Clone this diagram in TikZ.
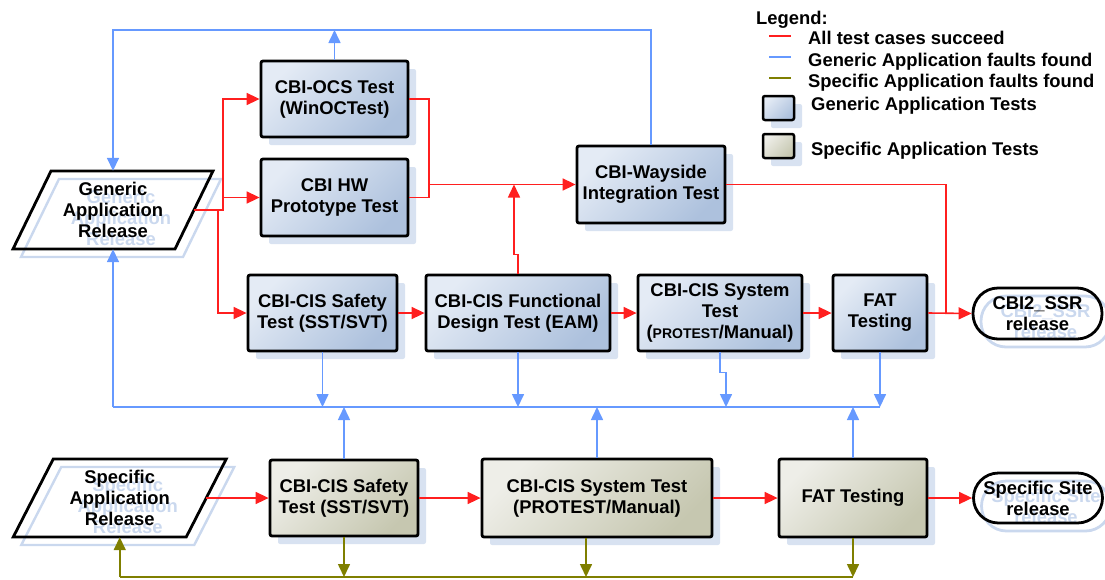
\documentclass[tikz,border=0pt]{standalone}
\usepackage{fontspec}
\setmainfont{Liberation Sans}
\usetikzlibrary{arrows.meta,shadows,calc}
\definecolor{cred}{HTML}{FF1F1F}
\definecolor{cblue}{HTML}{6699FF}
\definecolor{colive}{HTML}{7F7F00}
\definecolor{shblue}{HTML}{D8E2F1}
\definecolor{ghost}{HTML}{CAD8EE}
\definecolor{gtop}{HTML}{E4EBF5}
\definecolor{gbot}{HTML}{ADC1DD}
\definecolor{otop}{HTML}{EEEEE8}
\definecolor{obot}{HTML}{C6C7B0}
\tikzset{
  txt/.style={font=\fontsize{18.4}{21}\selectfont\bfseries, align=center, inner sep=1pt},
  box/.style={txt, draw=black, line width=2.8pt, rounded corners=2pt,
    drop shadow={shadow xshift=8pt, shadow yshift=-8pt, fill=shblue, opacity=1}},
  genbox/.style={box, top color=gtop, bottom color=gbot, shading angle=45},
  specbox/.style={box, top color=otop, bottom color=obot, shading angle=45},
  rel/.style={txt, draw=black, line width=2.8pt, rounded corners=25pt},
  ghostrel/.style={rel, draw=ghost, text=ghost},
  paraline/.style={draw=black, line width=2.8pt, line join=miter},
  ghostline/.style={draw=ghost, line width=2.4pt, line join=miter},
  tip/.style={-{Triangle[length=13pt,width=12pt]}},
  redline/.style={draw=cred, line width=1.6pt},
  blueline/.style={draw=cblue, line width=1.6pt},
  oliveline/.style={draw=colive, line width=1.6pt},
  legtxt/.style={txt, anchor=base west, inner sep=0pt},
}
\begin{document}
\begin{tikzpicture}[x=1pt,y=-1pt]
\useasboundingbox (0,0) rectangle (1105,579);

% ---------- legend ----------
\node[legtxt] (leg) at (756,24) {Legend:};
\coordinate (lr1) at (769,36); \coordinate (lr2) at (791,36);
\coordinate (lb1) at (769,57); \coordinate (lb2) at (791,57);
\coordinate (lo1) at (769,78); \coordinate (lo2) at (791,78);
\draw[redline] (lr1) -- (lr2);
\draw[blueline] (lb1) -- (lb2);
\draw[oliveline] (lo1) -- (lo2);
\node[legtxt] (l1) at (808,44.5) {All test cases succeed};
\node[legtxt] (l2) at (808,66) {Generic Application faults found};
\node[legtxt] (l3) at (808,87.5) {Specific Application faults found};
\node[genbox, line width=2.5pt, minimum width=31, minimum height=24] (lgb) at (778.5,108) {};
\node[legtxt] (l4) at (811,110) {Generic Application Tests};
\node[specbox, line width=2.5pt, minimum width=31, minimum height=24] (lsb) at (778.5,146) {};
\node[legtxt] (l5) at (811,155) {Specific Application Tests};

% ---------- release inputs (parallelograms) ----------
\node[txt, text=ghost, minimum width=161, minimum height=78] (garg) at (121,218) {Generic\\Application\\Release};
\draw[ghostline] (garg.center) ++(-62,-39) -- ++(162,0) -- ++(-38,78) -- ++(-162,0) -- cycle;
\node[txt, minimum width=161, minimum height=78] (gar) at (113,210) {Generic\\Application\\Release};
\draw[paraline] (gar.center) ++(-62,-39) -- ++(162,0) -- ++(-38,78) -- ++(-162,0) -- cycle;

\node[txt, text=ghost, minimum width=173, minimum height=78] (sarg) at (127.75,506) {Specific\\Application\\Release};
\draw[ghostline] (sarg.center) ++(-66.5,-39) -- ++(173,0) -- ++(-40,78) -- ++(-173,0) -- cycle;
\node[txt, minimum width=173, minimum height=78] (sar) at (119.75,498) {Specific\\Application\\Release};
\draw[paraline] (sar.center) ++(-66.5,-39) -- ++(173,0) -- ++(-40,78) -- ++(-173,0) -- cycle;

% ---------- generic application tests ----------
\node[genbox, minimum width=147, minimum height=76] (ocs) at (334.5,99) {CBI-OCS Test\\(WinOCTest)};
\node[genbox, minimum width=147, minimum height=77] (hw) at (334.5,197.5) {CBI HW\\Prototype Test};
\node[genbox, minimum width=148, minimum height=77] (way) at (651,184.5) {CBI-Wayside\\Integration Test};
\node[genbox, minimum width=149, minimum height=76] (sst) at (322.5,313) {CBI-CIS Safety\\Test (SST/SVT)};
\node[genbox, minimum width=184, minimum height=76] (fd) at (518,313) {CBI-CIS Functional\\Design Test (EAM)};
\node[genbox, minimum width=164, minimum height=76] (st) at (720,313) {CBI-CIS System\\Test\\({\fontsize{14}{21}\selectfont PROTEST}/Manual)};
\node[genbox, minimum width=94, minimum height=76] (fat) at (880,313) {FAT\\Testing};
\node[ghostrel, minimum width=129, minimum height=51] (ssrg) at (1045.5,321.5) {CBI2\_SSR\\release};
\node[rel, minimum width=129, minimum height=51] (ssr) at (1037.5,313.5) {CBI2\_SSR\\release};

% ---------- specific application tests ----------
\node[specbox, minimum width=148, minimum height=76] (bsst) at (344,498) {CBI-CIS Safety\\Test (SST/SVT)};
\node[specbox, minimum width=230, minimum height=78] (bst) at (597,498) {CBI-CIS System Test\\(PROTEST/Manual)};
\node[specbox, minimum width=148, minimum height=78] (bfat) at (853,498) {FAT Testing};
\node[ghostrel, minimum width=129, minimum height=50] (ssiteg) at (1046,506) {Specific Site\\release};
\node[rel, minimum width=129, minimum height=50] (ssite) at (1038,498) {Specific Site\\release};

% ---------- red: all test cases succeed ----------
\coordinate (j1) at (223,210);
\coordinate (j2) at (218,210);
\coordinate (j3) at (429,184.5);
\coordinate (j4) at (514,184.5);
\coordinate (j5) at (946,313);
\draw[redline, tip] (gar.east) -- (j1) |- (ocs.west);
\draw[redline, tip] (j1) |- (hw.west);
\draw[redline, tip] (j2) |- (sst.west);
\draw[redline] (ocs.east) -| (j3);
\draw[redline] (hw.east) -| (j3);
\draw[redline, tip] (j3) -- (way.west);
\draw[redline, tip] (fd.north) -- ++(0,-19) -| (j4);
\draw[redline] (way.east) -| (j5);
\draw[redline, tip] (sst.east) -- (fd.west);
\draw[redline, tip] (fd.east) -- (st.west);
\draw[redline, tip] (st.east) -- (fat.west);
\draw[redline, tip] (fat.east) -- (ssr.west);
\draw[redline, tip] (sar.east) -- (bsst.west);
\draw[redline, tip] (bsst.east) -- (bst.west);
\draw[redline, tip] (bst.east) -- (bfat.west);
\draw[redline, tip] (bfat.east) -- (ssite.west);

% ---------- blue: generic application faults ----------
\coordinate (tr) at (651,30);
\coordinate (bl) at (113,407);
\coordinate (stj) at (726,407);
\draw[blueline, tip] (way.north) -- (tr) -| (gar.north);
\draw[blueline, tip] (ocs.north) -- (ocs.north |- tr);
\draw[blueline] (fat.south |- bl) -- (bl);
\draw[blueline, tip] (bl) -- (gar.south);
\draw[blueline, tip] (sst.south) -- (sst.south |- bl);
\draw[blueline, tip] (fd.south) -- (fd.south |- bl);
\draw[blueline, tip] (st.south) -- ++(0,20) -| (stj);
\draw[blueline, tip] (fat.south) -- (fat.south |- bl);
\draw[blueline, tip] (bsst.north) -- (bsst.north |- bl);
\draw[blueline, tip] (bst.north) -- (bst.north |- bl);
\draw[blueline, tip] (bfat.north) -- (bfat.north |- bl);

% ---------- olive: specific application faults ----------
\coordinate (ol) at (119.75,577);
\draw[oliveline] (bfat.south |- ol) -- (ol);
\draw[oliveline, tip] (ol) -- (sar.south);
\draw[oliveline, tip] (bsst.south) -- (bsst.south |- ol);
\draw[oliveline, tip] ([xshift=-11pt]bst.south) -- ([xshift=-11pt]bst.south |- ol);
\draw[oliveline, tip] (bfat.south) -- (bfat.south |- ol);
\end{tikzpicture}
\end{document}
